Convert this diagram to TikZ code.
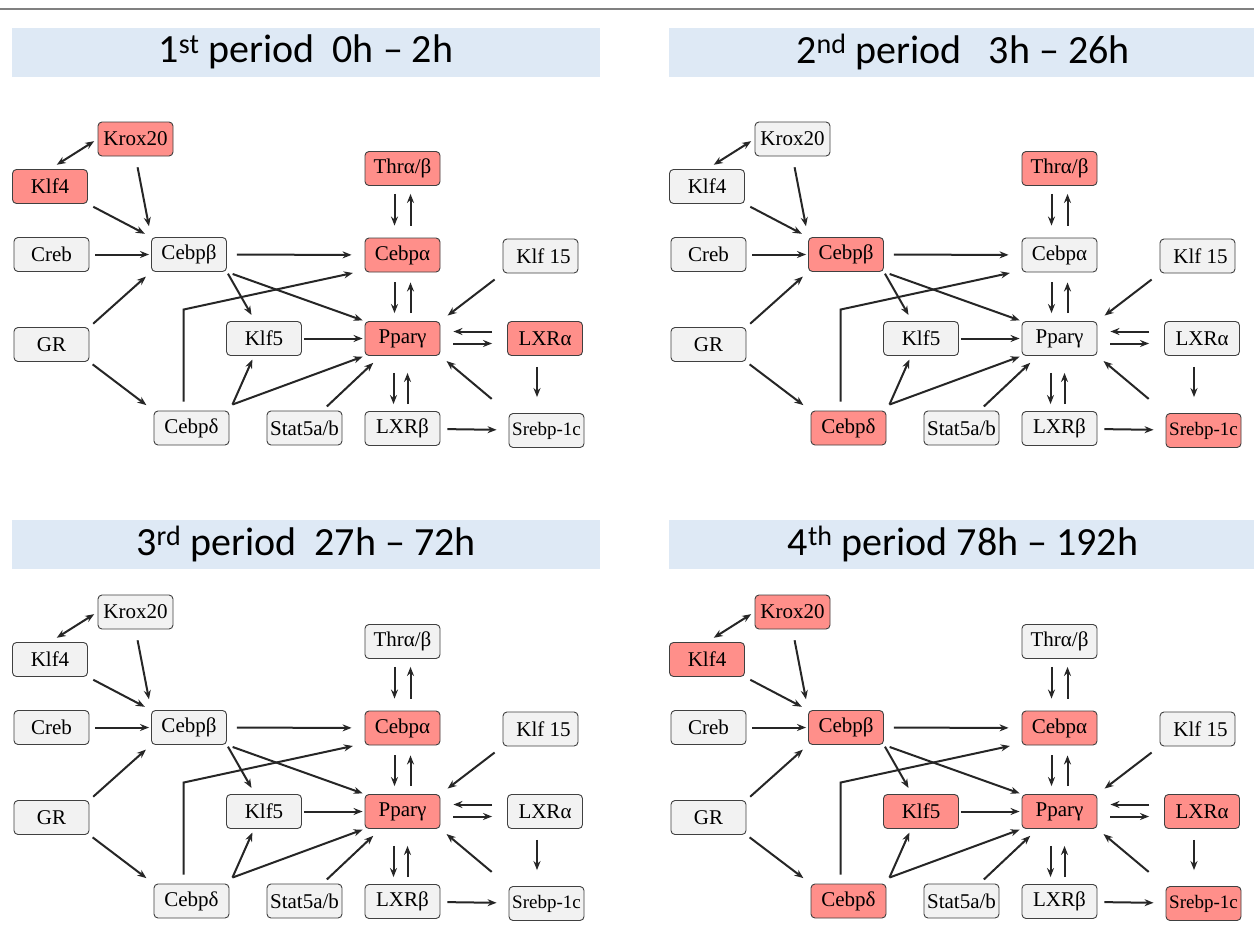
\documentclass[tikz,border=0pt]{standalone}
\usepackage{fontspec}
\usetikzlibrary{arrows.meta}
\newfontfamily\genefont{Liberation Serif}
\newfontfamily\titlefont{Carlito}

\definecolor{genered}{HTML}{FF8F8A}
\definecolor{genegray}{HTML}{F2F2F2}
\definecolor{boxline}{HTML}{404040}
\definecolor{barblue}{HTML}{DEE9F5}
\definecolor{arrowdark}{HTML}{262626}

\tikzset{
  gene/.style={draw=boxline, fill=genegray, rounded corners=4pt, line width=0.9pt,
    minimum width=75pt, minimum height=34pt, inner sep=0pt,
    font=\genefont\fontsize{21}{23}\selectfont},
  titlebar/.style={fill=barblue, minimum width=588pt, minimum height=49pt,
    inner sep=0pt, font=\titlefont\fontsize{40}{42}\selectfont},
  arr/.style={draw=arrowdark, line width=2pt, -{Stealth[length=9pt,width=7pt]}},
  arrboth/.style={arr, {Stealth[length=9pt,width=7pt]}-{Stealth[length=9pt,width=7pt]}},
  % genes that are up in a period
  hot/.style={g-#1/.style={fill=genered}},
  g-krox/.style={}, g-klf4/.style={}, g-creb/.style={}, g-cebpb/.style={},
  g-gr/.style={}, g-klf5/.style={}, g-cebpd/.style={}, g-stat/.style={},
  g-thr/.style={}, g-cebpa/.style={}, g-klf15/.style={}, g-pparg/.style={},
  g-lxra/.style={}, g-lxrb/.style={}, g-srebp/.style={}
}

% one network, #1 = prefix of the node names
\newcommand{\network}[1]{%
  % genes
  \node[gene, g-krox]  (#1krox)  at (135.5,139)   {Krox20};
  \node[gene, g-klf4]  (#1klf4)  at (50,186.5)    {Klf4};
  \node[gene, g-creb]  (#1creb)  at (51.5,254.5)  {Creb};
  \node[gene, g-cebpb] (#1cebpb) at (189,254.5)   {Cebpβ};
  \node[gene, g-gr]    (#1gr)    at (51.5,344.5)  {GR\hspace{14pt}};
  \node[gene, g-klf5]  (#1klf5)  at (264,338.5)   {Klf5};
  \node[gene, g-cebpd] (#1cebpd) at (191.5,428)   {Cebpδ};
  \node[gene, g-stat]  (#1stat)  at (304.5,428)   {Stat5a/b};
  \node[gene, g-thr]   (#1thr)   at (402.5,168.5) {Thrα/β};
  \node[gene, g-cebpa] (#1cebpa) at (402.5,255)   {Cebpα};
  \node[gene, g-klf15] (#1klf15) at (540.5,256)   {\hspace{6pt}Klf 15};
  \node[gene, g-pparg] (#1pparg) at (402.5,338.5) {Pparγ};
  \node[gene, g-lxra]  (#1lxra)  at (545,338.5)   {LXRα\hspace{12pt}};
  \node[gene, g-lxrb]  (#1lxrb)  at (402.5,428.5) {LXRβ};
  \node[gene, g-srebp, font=\genefont\fontsize{19}{21}\selectfont]
    (#1srebp) at (546.5,430.5) {Srebp-1c};
  % left part
  \draw[arrboth, shorten <=8pt, shorten >=4pt] (#1klf4.north) -- (#1krox.west);
  \draw[arr, shorten <=11pt, shorten >=11pt] (#1krox.south) -- (#1cebpb.north west);
  \draw[arr, shorten <=6pt, shorten >=7pt] (#1klf4.south east) -- (#1cebpb.north west);
  \draw[arr, shorten <=6pt, shorten >=2pt] (#1creb) -- (#1cebpb);
  \draw[arr, shorten <=5pt, shorten >=7pt] (#1gr.north east) -- (#1cebpb.south west);
  \draw[arr, shorten <=4pt, shorten >=9pt] (#1gr.south east) -- (#1cebpd.north west);
  % Cebpb and Cebpd
  \draw[arr, shorten <=10pt, shorten >=13pt] (#1cebpb) -- (#1cebpa);
  \draw[arr, shorten <=6pt, shorten >=2pt] (#1cebpb.south east) -- (#1pparg.north west);
  \draw[arr, shorten <=2pt, shorten >=7pt] (#1cebpb.south east) -- ([xshift=-9pt]#1klf5.north);
  \draw[arr, shorten <=9pt, shorten >=12pt] ([xshift=-8pt]#1cebpd.north) -- ++(0,-101)
    -- ([yshift=2pt]#1cebpa.south west);
  \draw[arr, shorten >=4pt] ([shift={(3,-6)}]#1cebpd.north east) -- ([xshift=-10pt]#1klf5.south);
  \draw[arr, shorten >=2pt] ([shift={(3,-6)}]#1cebpd.north east) -- (#1pparg.south west);
  \draw[arr, shorten <=2pt, shorten >=2pt] (#1klf5) -- (#1pparg);
  % round Ppar gamma
  \draw[arr, shorten <=8pt, shorten >=12pt] ([xshift=-8pt]#1thr.south) -- ([xshift=-8pt]#1cebpa.north);
  \draw[arr, shorten <=12pt, shorten >=8pt] ([xshift=8pt]#1cebpa.north) -- ([xshift=8pt]#1thr.south);
  \draw[arr, shorten <=10pt, shorten >=8pt] ([xshift=-8pt]#1cebpa.south) -- ([xshift=-8pt]#1pparg.north);
  \draw[arr, shorten <=8pt, shorten >=10pt] ([xshift=8pt]#1pparg.north) -- ([xshift=8pt]#1cebpa.south);
  \draw[arr, shorten <=10pt, shorten >=9pt] (#1klf15.south west) -- (#1pparg.north east);
  \draw[arr, shorten <=15pt, shorten >=13pt] ([yshift=7pt]#1lxra.west) -- ([yshift=7pt]#1pparg.east);
  \draw[arr, shorten <=13pt, shorten >=15pt] ([yshift=-5pt]#1pparg.east) -- ([yshift=-5pt]#1lxra.west);
  \draw[arr, shorten <=11pt, shorten >=16pt] ([xshift=-8pt]#1lxra.south) -- ([xshift=-9.5pt]#1srebp.north);
  \draw[arr, shorten <=22pt, shorten >=8pt] (#1srebp.north west) -- (#1pparg.south east);
  \draw[arr, shorten <=17pt, shorten >=7pt] ([xshift=-9pt]#1pparg.south) -- ([xshift=-9pt]#1lxrb.north);
  \draw[arr, shorten <=7pt, shorten >=17pt] ([xshift=5pt]#1lxrb.north) -- ([xshift=5pt]#1pparg.south);
  \draw[arr, shorten <=6pt, shorten >=10pt] ([xshift=18pt]#1stat.north) -- ([xshift=-22pt]#1pparg.south);
  \draw[arr, shorten <=7pt, shorten >=12pt] (#1lxrb) -- (#1srebp);
}

\begin{document}
\begin{tikzpicture}[x=1pt, y=-1pt]
  \fill[white] (0,0) rectangle (1254,929);
  \useasboundingbox (0,0) rectangle (1254,929);
  \draw[gray, line width=1.2pt] (0,9) -- (1254,9);

  % 1st period
  \begin{scope}[hot/.list={krox,klf4,thr,cebpa,pparg,lxra}]
    \node[titlebar] (title1) at (306,52) {1\textsuperscript{st} period\ \ 0h – 2h};
    \network{a}
  \end{scope}

  % 2nd period
  \begin{scope}[shift={(657,0)}, hot/.list={thr,cebpb,cebpd,srebp}]
    \node[titlebar] (title2) at (306,52) {2\textsuperscript{nd} period\ \ \ 3h – 26h};
    \network{b}
  \end{scope}

  % 3rd period
  \begin{scope}[shift={(0,473)}, hot/.list={cebpa,pparg}]
    \node[titlebar] (title3) at (306,71) {3\textsuperscript{rd} period\ \ 27h – 72h};
    \network{c}
  \end{scope}

  % 4th period
  \begin{scope}[shift={(657,473)}, hot/.list={krox,klf4,cebpb,klf5,cebpd,cebpa,pparg,lxra,srebp}]
    \node[titlebar] (title4) at (306,71) {4\textsuperscript{th} period 78h – 192h};
    \network{d}
  \end{scope}
\end{tikzpicture}
\end{document}
